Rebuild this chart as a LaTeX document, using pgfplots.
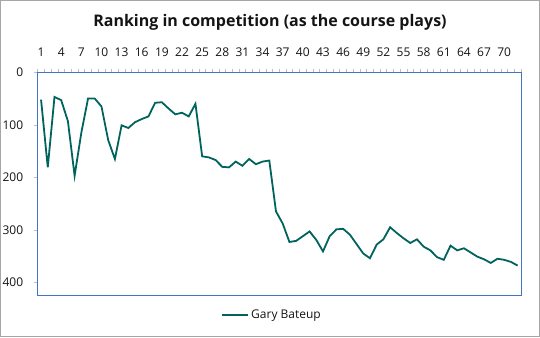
\documentclass[border=0pt]{standalone}
\usepackage{pgfplots}
\pgfplotsset{compat=1.18}
\usepackage{fontspec}
\setmainfont{Open Sans}
\definecolor{lineteal}{RGB}{0,99,93}
\definecolor{axblue}{RGB}{68,114,196}
\definecolor{tickgray}{RGB}{191,191,191}
\definecolor{framegray}{RGB}{166,166,166}
\definecolor{txt}{RGB}{20,20,20}
\begin{document}
\begin{tikzpicture}[x=1pt,y=1pt]
\useasboundingbox (0,0) rectangle (540,337);
\draw[framegray, line width=1pt] (0.5,0.5) rectangle (539.5,336.5);
\node[font=\bfseries\fontsize{16}{19}\selectfont, text=txt] at (270,315) {Ranking in competition (as the course plays)};
\begin{axis}[
  at={(37.7pt,42pt)}, anchor=south west,
  scale only axis, width=483.3pt, height=222.7pt,
  xmin=0.5, xmax=72.5, ymin=0, ymax=424,
  y dir=reverse,
  axis line style={axblue, line width=0.8pt},
  xtick={1,4,...,70},
  minor xtick={0.5,1.5,...,72.5},
  major x tick style={draw=none},
  minor x tick style={tickgray, line width=0.6pt},
  minor tick length=3pt,
  ytick={0,100,200,300,400},
  y tick style={tickgray, line width=0.6pt},
  major tick length=4pt,
  tick align=outside,
  xtick pos=upper,
  xticklabel pos=upper,
  ytick pos=left,
  xticklabel style={font=\fontsize{12}{14}\selectfont, text=txt, anchor=south, yshift=8pt},
  yticklabel style={font=\fontsize{12}{14}\selectfont, text=txt, xshift=-7pt},
  /pgf/number format/assume math mode=true,
  legend style={at={(0.485,-0.09)}, anchor=center, draw=none, fill=none,
    font=\fontsize{12}{14}\selectfont, text=txt},
  legend image code/.code={\draw[#1, line width=1.8pt] (0pt,0pt) -- (26pt,0pt);},
]
\addplot[lineteal, line width=1.8pt, mark=none] coordinates {
(1,52) (2,181) (3,47) (4,53) (5,93) (6,197) (7,115) (8,50) (9,50) (10,65)
(11,129) (12,165) (13,101) (14,106) (15,95) (16,89) (17,84) (18,58) (19,57) (20,69)
(21,80) (22,77) (23,84) (24,60) (25,160) (26,162) (27,167) (28,180) (29,181) (30,170)
(31,178) (32,165) (33,175) (34,170) (35,168) (36,265) (37,288) (38,323) (39,321) (40,312)
(41,303) (42,319) (43,341) (44,312) (45,299) (46,298) (47,309) (48,327) (49,345) (50,354)
(51,328) (52,318) (53,295) (54,306) (55,316) (56,325) (57,318) (58,332) (59,339) (60,352)
(61,357) (62,330) (63,339) (64,335) (65,343) (66,351) (67,356) (68,363) (69,355) (70,357)
(71,361) (72,368)
};
\addlegendentry{Gary Bateup}
\end{axis}
\end{tikzpicture}
\end{document}
